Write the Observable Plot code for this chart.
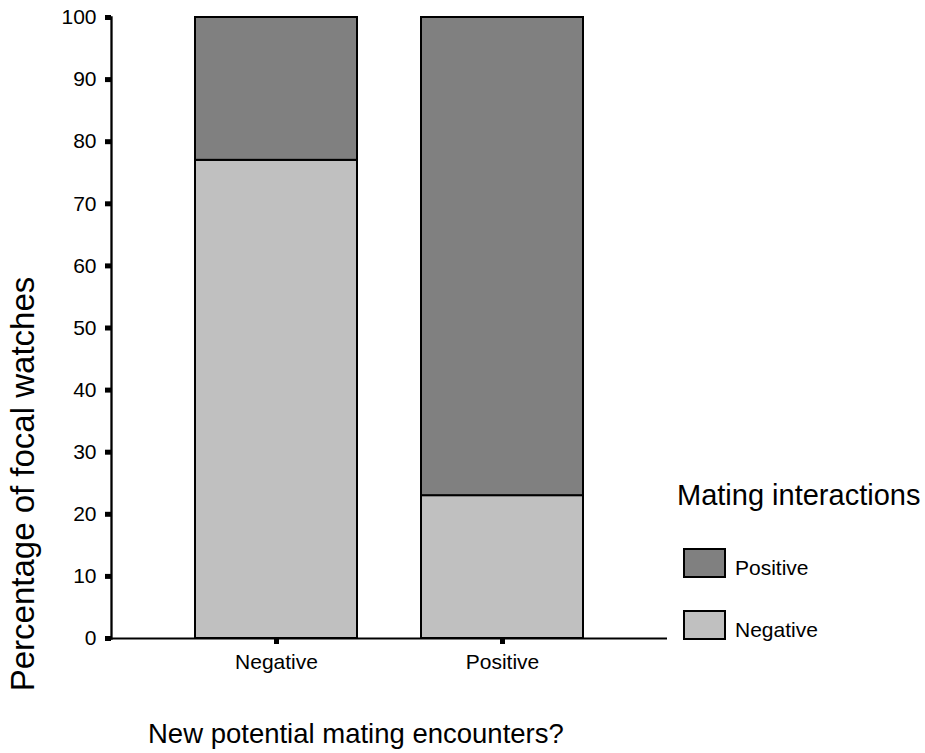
<!DOCTYPE html>
<html>
<head>
<meta charset="utf-8">
<script src="https://cdn.jsdelivr.net/npm/d3@7"></script>
<script src="https://cdn.jsdelivr.net/npm/@observablehq/plot@0.6"></script>
<style>
  html, body { margin: 0; padding: 0; background: #fff; }
  #wrap { position: relative; width: 925px; height: 753px; font-family: "Liberation Sans", Arial, sans-serif; color: #000; overflow: hidden; }
  .lg { position: absolute; line-height: 1; white-space: nowrap; }
  .sw { position: absolute; box-sizing: border-box; border: 2px solid #000; }
  #ytitle { position: absolute; line-height: 1; white-space: nowrap; transform: translate(-50%, -50%) rotate(-90deg); }
</style>
</head>
<body>
<div id="wrap"></div>
<script>
// ---- data ----
const encounters = ["Negative", "Positive"];          // x categories
const interactions = ["Positive", "Negative"];        // legend order (top to bottom)
const interactionColors = ["#808080", "#c0c0c0"];
const negativeInteractionPct = [77, 23];              // light grey (bottom)
const positiveInteractionPct = [23, 77];              // dark grey (top)
const yTicks = [0, 10, 20, 30, 40, 50, 60, 70, 80, 90, 100];
const yTitle = "Percentage of focal watches";
const xTitle = "New potential mating encounters?";
const legendTitle = "Mating interactions";

const rows = [];
encounters.forEach((g, i) => {
  rows.push({group: g, interaction: "Negative", value: negativeInteractionPct[i]});
  rows.push({group: g, interaction: "Positive", value: positiveInteractionPct[i]});
});

const font = "'Liberation Sans', Arial, sans-serif";

const chart = Plot.plot({
  width: 925,
  height: 753,
  marginLeft: 111,
  marginRight: 258,
  marginTop: 17,
  marginBottom: 115,
  style: {fontFamily: font, background: "white", color: "black", overflow: "visible"},
  x: {domain: encounters, paddingInner: 0.282, paddingOuter: 0.366, label: null},
  y: {domain: [0, 100], label: null},
  color: {domain: interactions, range: interactionColors},
  marks: [
    Plot.barY(rows, {
      x: "group", y: "value", fill: "interaction",
      order: ["Negative", "Positive"],
      stroke: "black", strokeWidth: 2
    }),
    Plot.frame({anchor: "left", stroke: "black", strokeWidth: 2.3}),
    Plot.ruleY([0], {stroke: "black", strokeWidth: 2}),
    Plot.axisY({ticks: yTicks, tickSize: 6, tickPadding: 9, strokeWidth: 5, fontSize: 21, label: null, tickFormat: d => String(d)}),
    Plot.axisX({tickSize: 6, tickPadding: 10, strokeWidth: 5, fontSize: 21, label: null})
  ]
});

const wrap = document.getElementById("wrap");
wrap.appendChild(chart);

// thicken tick marks (short square ticks as in the reference)
chart.querySelectorAll('g[aria-label="y-axis tick"], g[aria-label="x-axis tick"]').forEach(g => {
  g.setAttribute("stroke-width", 5);
  g.querySelectorAll("path,line").forEach(p => p.setAttribute("stroke-width", 5));
});

// ---- axis titles (HTML) ----
const yt = document.createElement("div");
yt.id = "ytitle";
yt.style.left = "21.5px";
yt.style.top = "484px";
yt.style.fontSize = "33px";
yt.textContent = yTitle;
wrap.appendChild(yt);

const xt = document.createElement("div");
xt.className = "lg";
xt.style.left = "148px";
xt.style.top = (733 - 0.488 * 27.5) + "px";
xt.style.fontSize = "27.5px";
xt.textContent = xTitle;
wrap.appendChild(xt);

// ---- legend (HTML) ----
const t = document.createElement("div");
t.className = "lg";
t.style.left = "677px";
t.style.top = (495.5 - 0.488 * 29) + "px";
t.style.fontSize = "29px";
t.textContent = legendTitle;
wrap.appendChild(t);

interactions.forEach((name, i) => {
  const top = 548 + i * 62;
  const sw = document.createElement("div");
  sw.className = "sw";
  sw.style.left = "683px";
  sw.style.top = top + "px";
  sw.style.width = "43px";
  sw.style.height = "30px";
  sw.style.background = interactionColors[i];
  wrap.appendChild(sw);
  const lb = document.createElement("div");
  lb.className = "lg";
  lb.style.left = "735px";
  lb.style.top = (top + 19.5 - 0.488 * 21) + "px";
  lb.style.fontSize = "21px";
  lb.textContent = name;
  wrap.appendChild(lb);
});
</script>
</body>
</html>
